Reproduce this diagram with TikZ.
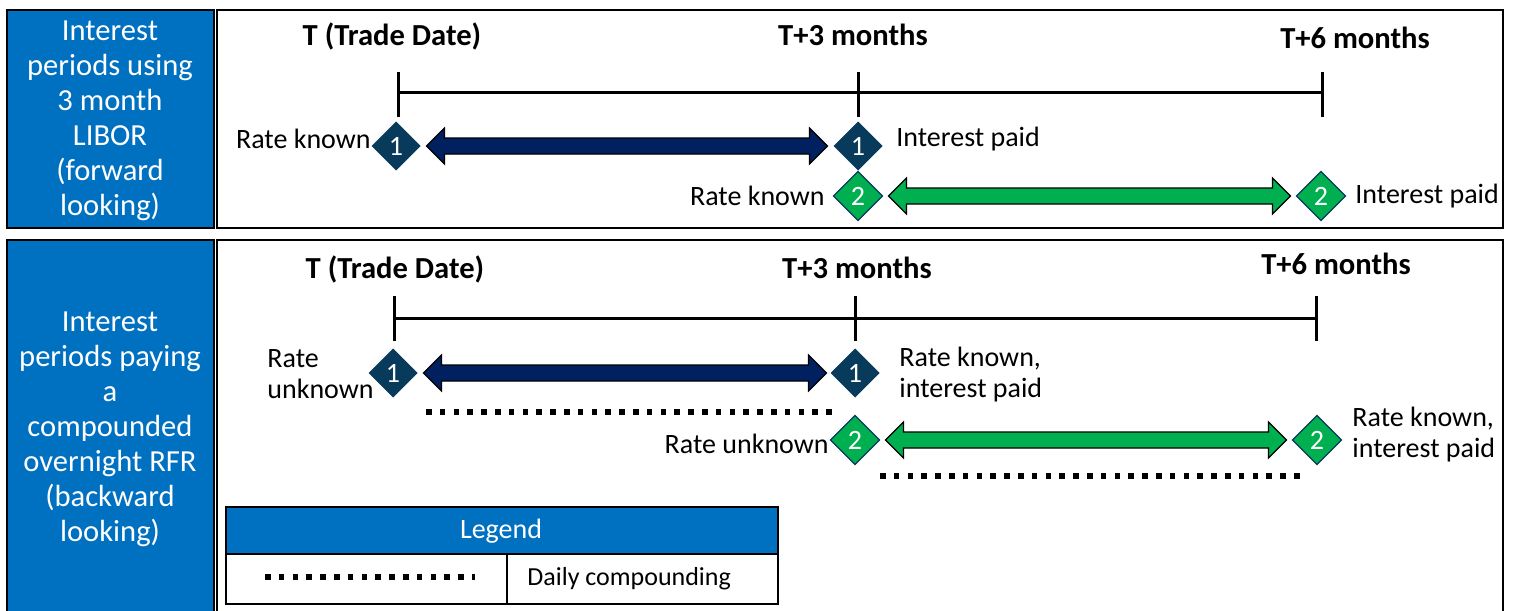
\documentclass[tikz,border=0pt]{standalone}
\usepackage{fontspec}
\setmainfont{Carlito}
\usetikzlibrary{shapes.geometric,calc}
\definecolor{boxblue}{HTML}{0070C0}
\definecolor{diadark}{HTML}{083A5C}
\definecolor{navy}{HTML}{002060}
\definecolor{grn}{HTML}{00B050}
\newcommand{\fatarrow}[3]{%
  \filldraw[fill=#3, draw=black, line width=0.6pt, line join=miter]
    (#1) -- ($(#1)+(18,-18)$) -- ($(#1)+(18,-8)$) -- ($(#2)+(-18,-8)$) --
    ($(#2)+(-18,-18)$) -- (#2) -- ($(#2)+(-18,18)$) -- ($(#2)+(-18,8)$) --
    ($(#1)+(18,8)$) -- ($(#1)+(18,18)$) -- cycle;}
\begin{document}
\begin{tikzpicture}[x=0.5pt,y=-0.5pt,
  lbox/.style={fill=boxblue, draw=black, line width=1pt},
  rbox/.style={draw=black, line width=1pt},
  tline/.style={line width=1.5pt},
  dia/.style={diamond, minimum width=24.5pt, minimum height=24.5pt, inner sep=0pt, outer sep=0pt, text=white, font=\fontsize{14}{14}\selectfont},
  dA/.style={dia, fill=diadark},
  dB/.style={dia, fill=grn, draw=diadark, line width=0.6pt},
  lab/.style={inner sep=0pt, font=\fontsize{14}{15.5}\selectfont, align=left},
  hd/.style={inner sep=0pt, font=\bfseries\fontsize{15.3}{16}\selectfont},
  side/.style={inner sep=0pt, text=white, align=center, font=\fontsize{15.3}{17.5}\selectfont},
  dots/.style={line width=2.8pt, dash pattern=on 2.8pt off 4.1pt},
]
\useasboundingbox (0,0) rectangle (1513,610);
\clip (0,0) rectangle (1513,610);
\fill[white] (0,0) rectangle (1513,610);

% ---------- top section ----------
\draw[lbox] (7,10) rectangle (214,228);
\draw[rbox] (217,10) rectangle (1503,228);
\node[side] (s1) at (110,121) {Interest\\periods using\\3 month\\LIBOR\\(forward\\looking)};

\node[hd] (h1) at (392,36) {T (Trade Date)};
\node[hd] (h2) at (853,35) {T+3 months};
\node[hd] (h3) at (1355,38) {T+6 months};

\coordinate (t1) at (398,93);
\coordinate (t2) at (858,93);
\coordinate (t3) at (1322,93);
\draw[tline] (t1) -- (t3);
\foreach \c in {t1,t2,t3} \draw[tline] ($(\c)+(0,-21)$) -- ($(\c)+(0,24)$);

\node[dA] (a1) at (396,146) {1};
\node[dA] (a2) at (858,146) {1};
\node[dB] (a3) at (858,196) {2};
\node[dB] (a4) at (1321,196) {2};

\coordinate (a1r) at ([xshift=3pt]a1.east);
\coordinate (a2l) at ([xshift=-3pt]a2.west);
\coordinate (a3r) at ([xshift=3pt]a3.east);
\coordinate (a4l) at ([xshift=-3pt]a4.west);
\fatarrow{a1r}{a2l}{navy}
\fatarrow{a3r}{a4l}{grn}

\node[lab, anchor=east] (l1) at (371,139) {Rate known};
\node[lab, anchor=west] (l2) at (896,139) {Interest paid};
\node[lab, anchor=east] (l3) at (825,196) {Rate known};
\node[lab, anchor=west] (l4) at (1355,196) {Interest paid};

% ---------- bottom section ----------
\draw[lbox] (7,240) rectangle (214,640);
\draw[rbox] (217,240) rectangle (1503,640);
\node[side] (s2) at (110,429) {Interest\\periods paying\\a\\compounded\\overnight RFR\\(backward\\looking)};

\node[hd] (g1) at (395,269) {T (Trade Date)};
\node[hd] (g2) at (857,268) {T+3 months};
\node[hd] (g3) at (1336,264) {T+6 months};

\coordinate (u1) at (394,318);
\coordinate (u2) at (855,318);
\coordinate (u3) at (1316,318);
\draw[tline] (u1) -- (u3);
\foreach \c in {u1,u2,u3} \draw[tline] ($(\c)+(0,-22)$) -- ($(\c)+(0,23)$);

\node[dA] (b1) at (393,373) {1};
\node[dA] (b2) at (855,373) {1};
\node[dB] (b3) at (855,440) {2};
\node[dB] (b4) at (1317,440) {2};

\coordinate (b1r) at ([xshift=3pt]b1.east);
\coordinate (b2l) at ([xshift=-2pt]b2.west);
\coordinate (b3r) at ([xshift=3pt]b3.east);
\coordinate (b4l) at ([xshift=-3pt]b4.west);
\fatarrow{b1r}{b2l}{navy}
\fatarrow{b3r}{b4l}{grn}

\coordinate (d1s) at (426,412);
\coordinate (d1e) at (836,412);
\coordinate (d2s) at (880,476);
\coordinate (d2e) at (1300,476);
\draw[dots] (d1s) -- (d1e);
\draw[dots] (d2s) -- (d2e);

\node[lab, anchor=west] (m1) at (267,374) {Rate\\unknown};
\node[lab, anchor=west] (m2) at (899,375) {Rate known,\\interest paid};
\node[lab, anchor=east] (m3) at (829,444) {Rate unknown};
\node[lab, anchor=west] (m4) at (1352,435) {Rate known,\\interest paid};

% ---------- legend ----------
\draw[lbox] (226,507) rectangle (778,554);
\draw[rbox, fill=white] (226,554) rectangle (778,604);
\draw[line width=1pt] (507,554) -- (507,604);
\node[lab, text=white, anchor=center] (lg) at (501,531) {Legend};
\coordinate (ls) at (265,577);
\coordinate (le) at (475,577);
\draw[dots] (ls) -- (le);
\node[lab, anchor=west, font=\fontsize{13}{15}\selectfont] (lt) at (527,579) {Daily compounding};
\end{tikzpicture}
\end{document}
